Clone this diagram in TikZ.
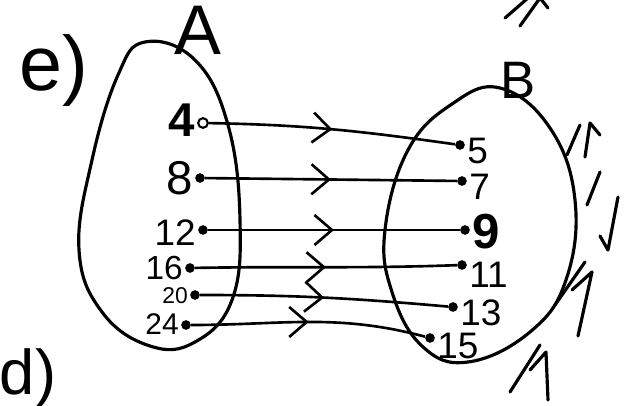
\documentclass[tikz,border=0pt]{standalone}
\usepackage{fontspec}
\setmainfont{Liberation Sans}
\usetikzlibrary{arrows.meta, decorations.markings}
\tikzset{
  blob/.style={draw, line width=1.8pt, line join=round},
  elem/.style={font=\fontsize{21}{22}\selectfont, inner sep=1pt, text height=0.72em, text depth=0pt},
  pt/.style={circle, fill=black, inner sep=0pt, minimum size=5.5pt},
  opt/.style={circle, draw, line width=1.2pt, fill=white, inner sep=0pt, minimum size=5.5pt},
  mapsto/.style={line width=1.5pt, postaction={decorate}, decoration={markings,
      mark=at position 0.5 with {\arrow{Straight Barb[length=3.5mm, width=6mm, line width=1.5pt]}}}},
  tick/.style={line width=1.8pt, line cap=round, line join=round},
  big/.style={font=\fontsize{40}{42}\selectfont}
}

\begin{document}
\begin{tikzpicture}[x=0.02cm, y=-0.02cm]
        \useasboundingbox (0,0) rectangle (637,406);
        % labels of the exercise
        \node[big, font=\fontsize{44}{46}\selectfont] (lbl-e) at (54,70) {e)};
        \node[big, font=\fontsize{36}{38}\selectfont] (lbl-d) at (28,378) {d)};
        \node[big] (nameA) at (198,30) {A};
        \node[big, font=\fontsize{30}{32}\selectfont] (nameB) at (518,80) {B};
        % the two sets
        \draw[blob] plot[smooth cycle, tension=0.7] coordinates {(145,42) (195,60) (228,125) (240,220) (232,300) (195,342) (150,346) (102,312) (79,250) (92,160) (118,75)};
        \draw[blob] plot[smooth cycle, tension=0.7] coordinates {(500,88) (550,128) (575,200) (566,280) (530,332) (468,362) (422,346) (392,292) (385,230) (408,150) (452,104)};
        % elements of A
        \node[opt] (a4) at (203,123) {};
        \node[pt] (a8) at (200,178) {};
        \node[pt] (a12) at (203,230) {};
        \node[pt] (a16) at (190,268) {};
        \node[pt] (a20) at (195,295) {};
        \node[pt] (a24) at (186,325) {};
        \node[elem, anchor=east, font=\fontsize{27}{28}\selectfont\bfseries] at ([yshift=-4pt]a4.west) {4};
        \node[elem, anchor=east, font=\fontsize{27}{28}\selectfont] at ([yshift=-6pt]a8.west) {8};
        \node[elem, anchor=east] at ([yshift=-5pt]a12.west) {12};
        \node[elem, anchor=east, font=\fontsize{19}{20}\selectfont] at ([yshift=-3pt]a16.west) {16};
        \node[elem, anchor=east, font=\fontsize{13}{14}\selectfont] at ([yshift=-1pt]a20.west) {20};
        \node[elem, anchor=east, font=\fontsize{17}{18}\selectfont] at ([yshift=-2pt]a24.west) {24};
        % elements of B
        \node[pt] (b5) at (460,145) {};
        \node[pt] (b7) at (462,181) {};
        \node[pt] (b9) at (465,230) {};
        \node[pt] (b11) at (462,265) {};
        \node[pt] (b13) at (453,307) {};
        \node[pt] (b15) at (430,338) {};
        \node[elem, anchor=west] at ([yshift=-7pt]b5.east) {5};
        \node[elem, anchor=west] at ([yshift=-7pt]b7.east) {7};
        \node[elem, anchor=west, font=\fontsize{28}{30}\selectfont\bfseries] at ([yshift=-7pt]b9.east) {9};
        \node[elem, anchor=west] at ([yshift=-9pt]b11.east) {11};
        \node[elem, anchor=west] at ([yshift=-7pt]b13.east) {13};
        \node[elem, anchor=west] at ([yshift=-8pt]b15.east) {15};
        % the mapping
        \draw[mapsto] (a4) to[out=-1, in=172] (b5);
        \draw[mapsto] (a8) -- (b7);
        \draw[mapsto] (a12) -- (b9);
        \draw[mapsto] (a16) to[out=1, in=182] (b11);
        \draw[mapsto] (a20) to[out=0, in=175] (b13);
        \draw[mapsto] (a24) to[out=0, in=165] (b15);
        % marks at the margin
        \draw[tick] (505,18) -- (528,-2) (520,26) -- (540,-2) -- (548,8);
        \draw[tick] (567,155) -- (580,125) (585,157) -- (590,123) -- (600,135);
        \draw[tick] (587,205) -- (600,172);
        \draw[tick] (608,250) -- (618,197) (608,250) -- (600,236);
        \draw[tick] (555,305) -- (585,262) (578,336) -- (592,272) -- (572,290);
        \draw[tick] (510,392) -- (540,345) (548,400) -- (546,352) -- (530,370);
\end{tikzpicture}
\end{document}
